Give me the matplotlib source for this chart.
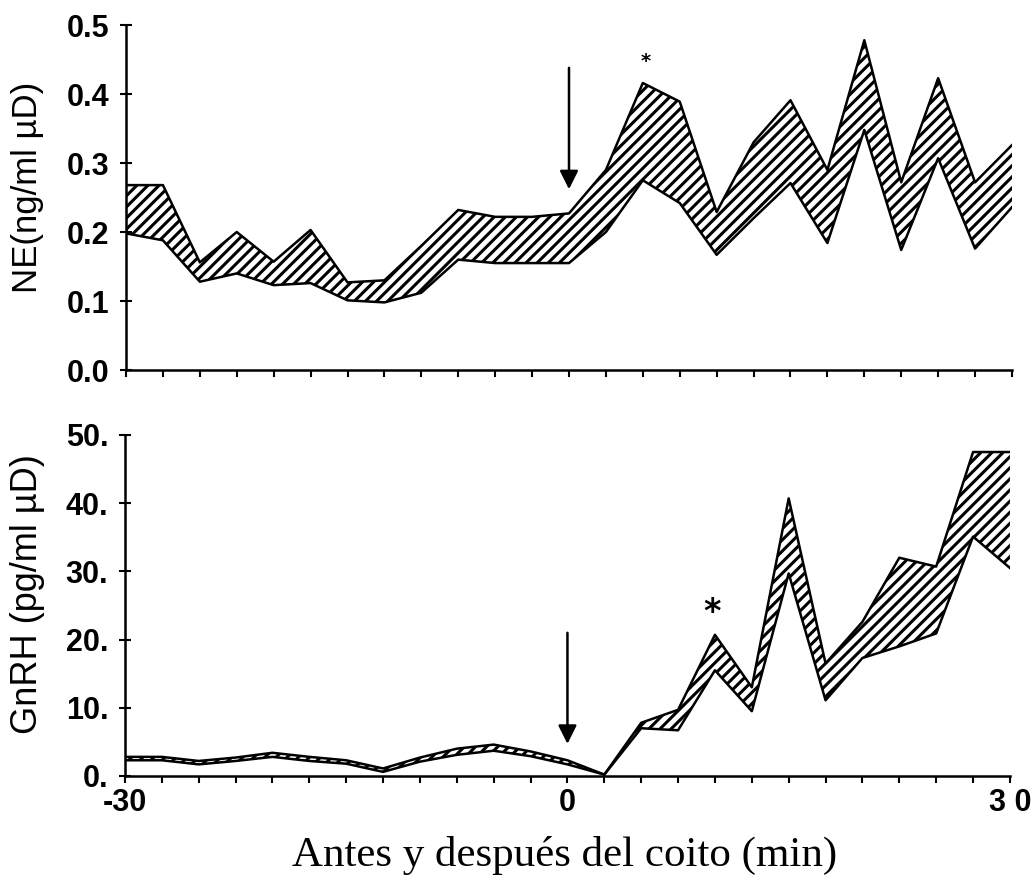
import matplotlib.pyplot as plt
import numpy as np

plt.rcParams['hatch.linewidth'] = 2.2

# time (min) relative to coitus
t = np.arange(-30, 30.1, 2.5)

# NE band (ng/ml uD)
ne_low = [0.198, 0.188, 0.128, 0.140, 0.123, 0.126, 0.101, 0.098, 0.112, 0.160, 0.155, 0.155, 0.155,
          0.200, 0.275, 0.242, 0.167, 0.220, 0.271, 0.184, 0.348, 0.174, 0.307, 0.176, 0.236]
ne_high = [0.268, 0.268, 0.156, 0.200, 0.157, 0.203, 0.127, 0.130, 0.180, 0.232, 0.222, 0.222, 0.227,
           0.290, 0.416, 0.389, 0.229, 0.330, 0.391, 0.290, 0.478, 0.272, 0.423, 0.272, 0.326]

# GnRH band (pg/ml uD)
gn_low = [2.3, 2.3, 1.7, 2.2, 2.8, 2.2, 1.8, 0.6, 2.1, 3.1, 3.7, 2.9, 1.7,
          0.2, 7.0, 6.7, 15.5, 9.5, 29.7, 11.1, 17.3, 19.0, 20.9, 35.1, 30.5]
gn_high = [2.8, 2.8, 2.2, 2.7, 3.4, 2.8, 2.3, 1.1, 2.7, 4.0, 4.6, 3.6, 2.3,
           0.2, 7.8, 9.7, 20.7, 13.0, 40.7, 16.5, 22.6, 32.0, 30.7, 47.5, 47.5]

ne_ticks = [0.0, 0.1, 0.2, 0.3, 0.4, 0.5]
ne_ticklabels = ['0.0', '0.1', '0.2', '0.3', '0.4', '0.5']
gn_ticks = [0, 10, 20, 30, 40, 50]
gn_ticklabels = ['0.', '10.', '20.', '30.', '40.', '50.']
x_labelled = {-30: '-30', 0: '0', 30: '3 0'}

fig = plt.figure(figsize=(10.32, 8.85), dpi=100)
ax1 = fig.add_axes([0.1221, 0.5819, 0.8585, 0.3898])
ax2 = fig.add_axes([0.1211, 0.1232, 0.8575, 0.3853])

tickfont = dict(family='Liberation Sans', weight='bold', size=22)


def band(ax, lo, hi):
    ax.fill_between(t, lo, hi, facecolor='white', edgecolor='black', hatch='///', linewidth=0)
    ax.plot(t, lo, color='black', lw=1.8)
    ax.plot(t, hi, color='black', lw=1.8)


def style(ax, yticks, ylabels, ymax):
    ax.set_xlim(-30, 30)
    ax.set_ylim(0, ymax)
    for s in ['top', 'right']:
        ax.spines[s].set_visible(False)
    ax.spines['left'].set_linewidth(1.8)
    ax.spines['bottom'].set_linewidth(1.8)
    ax.set_yticks(yticks)
    ax.set_yticklabels(ylabels, fontdict=tickfont)
    ax.set_xticks(t)
    ax.tick_params(axis='y', direction='inout', length=8, width=1.5, pad=8)
    ax.tick_params(axis='x', direction='out', length=5, width=1.5)


band(ax1, ne_low, ne_high)
style(ax1, ne_ticks, ne_ticklabels, 0.5)
ax1.set_xticklabels(['' for _ in t])
fig.text(28 / 1032, 1 - 187 / 885, 'NE(ng/ml \u00b5D)', family='Liberation Sans', fontsize=25,
         rotation=90, ha='center', va='center')
ax1.annotate('', xy=(0, 0.258), xytext=(0, 0.442),
             arrowprops=dict(arrowstyle='-|>', color='black', lw=1.8, mutation_scale=28))
ax1.text(5.2, 0.447, '*', ha='center', va='center', fontsize=14, weight='bold')

band(ax2, gn_low, gn_high)
style(ax2, gn_ticks, gn_ticklabels, 50)
ax2.set_xticklabels([x_labelled.get(int(v), '') if v == int(v) else '' for v in t], fontdict=tickfont)
fig.text(28 / 1032, 1 - 594 / 885, 'GnRH (pg/ml \u00b5D)', family='Liberation Sans', fontsize=26,
         rotation=90, ha='center', va='center')
ax2.annotate('', xy=(0, 4.3), xytext=(0, 21.4),
             arrowprops=dict(arrowstyle='-|>', color='black', lw=1.8, mutation_scale=28))
ax2.text(9.8, 24.0, '*', ha='center', va='center', fontsize=24, weight='bold')
fig.text(565 / 1032, 1 - 855 / 885, 'Antes y despu\u00e9s del coito (min)', family='Liberation Serif',
         fontsize=31, ha='center', va='center')

fig.savefig('out.png', dpi=100)
